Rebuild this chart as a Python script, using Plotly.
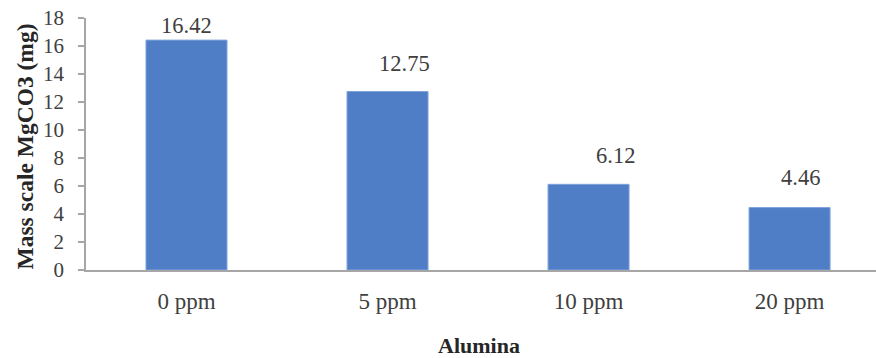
import plotly.graph_objects as go

categories = ["0 ppm", "5 ppm", "10 ppm", "20 ppm"]
values = [16.42, 12.75, 6.12, 4.46]
y_ticks = [0, 2, 4, 6, 8, 10, 12, 14, 16, 18]

# label placement offsets (pixels), styling only
label_dx = [0, 17, 27, 11]
label_dy = [15, 28, 29, 30]

FONT = "Liberation Serif"
BAR = "#4F7EC7"
TXT = "#404040"
AX = "#A6A6A6"

fig = go.Figure()
fig.add_trace(go.Bar(
    x=categories, y=values,
    marker=dict(color=BAR, line=dict(color="#7FA3DA", width=1)),
    hoverinfo="skip",
))

annotations = []
for c, v, dx, dy in zip(categories, values, label_dx, label_dy):
    annotations.append(dict(
        x=c, y=v, xref="x", yref="y", text=f"{v:.2f}", showarrow=False,
        xshift=dx, yshift=dy, xanchor="center", yanchor="middle",
        font=dict(family=FONT, size=22.5, color=TXT)))

annotations.append(dict(
    x=-0.0772, y=0.49, xref="paper", yref="paper", text="Mass scale MgCO3 (mg)",
    textangle=-90, showarrow=False, xanchor="center", yanchor="middle",
    font=dict(family=FONT, size=23.5, color="#262626", weight="bold")))
annotations.append(dict(
    x=0.4975, y=-0.298, xref="paper", yref="paper", text="Alumina",
    showarrow=False, xanchor="center", yanchor="middle", borderpad=0,
    font=dict(family=FONT, size=22, color="#262626", weight="bold")))

fig.update_layout(
    width=876, height=358,
    margin=dict(l=86, r=0, t=18, b=88),
    paper_bgcolor="white", plot_bgcolor="white",
    bargap=0.597,
    showlegend=False,
    annotations=annotations,
    font=dict(family=FONT, size=22, color=TXT),
    xaxis=dict(
        type="category", range=[-0.5, 3.43],
        showline=True, linecolor=AX, linewidth=1.5,
        showgrid=False, ticks="", ticklabelstandoff=10,
        tickfont=dict(family=FONT, size=23, color=TXT),
        zeroline=False, fixedrange=True,
    ),
    yaxis=dict(
        range=[0, 18], tickvals=y_ticks,
        showline=True, linecolor=AX, linewidth=1.5,
        showgrid=False, ticks="outside", ticklen=6, tickcolor=AX, tickwidth=1.5,
        ticklabelstandoff=10,
        tickfont=dict(family=FONT, size=21, color=TXT),
        zeroline=False, fixedrange=True,
    ),
)

fig.write_html("out.html", config={"displayModeBar": False})
